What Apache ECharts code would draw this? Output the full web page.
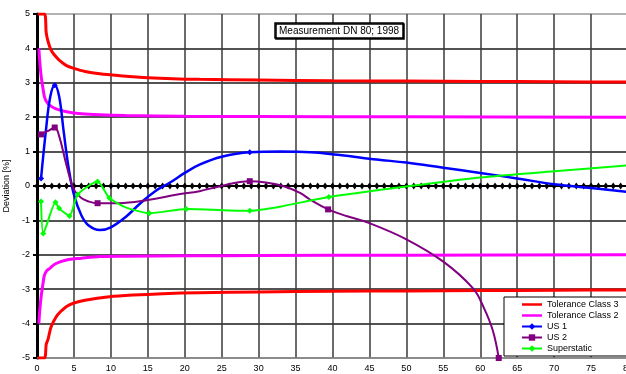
<!DOCTYPE html>
<html><head><meta charset="utf-8">
<script src="https://cdn.jsdelivr.net/npm/echarts@6/dist/echarts.min.js"></script>
<style>html,body{margin:0;padding:0;background:#fff}#c{width:626px;height:374px}</style>
</head><body><div id="c"></div>
<script>
// ---- data ----
const tol3UpX = [0.1,1.0,1.25,1.5,1.9,2.4,3,4,5,6.5,8.5,11,15,22,30,40,50,60,70,80];
const tol3UpY = [5,5,4.45,4.2,3.95,3.8,3.66,3.5,3.42,3.33,3.26,3.21,3.15,3.1,3.08,3.06,3.05,3.04,3.03,3.02];
const tol3LoX = [0.1,1.0,1.25,1.5,1.9,2.6,3.2,4,5,6.5,9.8,13,17,22,30,40,50,60,70,80];
const tol3LoY = [-5,-5,-4.6,-4.45,-4.1,-3.8,-3.65,-3.5,-3.4,-3.32,-3.22,-3.17,-3.13,-3.1,-3.08,-3.06,-3.05,-3.04,-3.03,-3.02];
const tol2UpX = [0.25,0.4,0.57,0.8,1.0,1.3,1.7,2.5,4,6,8.5,12,20,30,50,80];
const tol2UpY = [4.0,3.55,3.18,2.85,2.6,2.45,2.35,2.25,2.16,2.1,2.07,2.05,2.03,2.02,2.01,2.0];
const tol2LoX = [0.25,0.4,0.57,0.8,1.0,1.3,1.7,2.5,4,6,8.5,12,20,30,50,80];
const tol2LoY = [-4.0,-3.55,-3.2,-2.85,-2.6,-2.47,-2.4,-2.26,-2.15,-2.1,-2.05,-2.04,-2.03,-2.02,-2.01,-2.0];
const us1X = [0.55,1.2,1.8,2.4,3,3.6,4.3,5,6,7,8.5,10,12,14,16,18,20,22,25,28.8,33,37,41,46,50,55,60,65,70,75,80];
const us1Y = [0.22,1.6,2.6,2.93,2.6,1.6,0.5,-0.25,-0.85,-1.15,-1.28,-1.2,-0.9,-0.5,-0.15,0.1,0.38,0.62,0.85,0.98,1.0,0.98,0.9,0.77,0.68,0.53,0.38,0.22,0.05,-0.06,-0.17];
const us1Measured = [0.55,2.4,28.8];
const us2X = [0.55,1.5,2.4,3,4,5,6,7,8.2,11,15,19,22,24.5,28.8,31,33.3,35.6,37,39.4,42,45,50,55,59,60.4,61.7,62.5];
const us2Y = [1.5,1.6,1.7,1.45,0.6,-0.1,-0.35,-0.45,-0.5,-0.5,-0.41,-0.25,-0.15,-0.02,0.14,0.1,0,-0.2,-0.4,-0.68,-0.88,-1.08,-1.55,-2.2,-2.97,-3.5,-4.2,-5];
const us2Measured = [0.55,2.4,8.2,28.8,39.4,62.5];
const supX = [0.55,0.85,2.5,3,4.4,5.5,8.2,9.8,12,15.2,20.2,28.8,32.9,39.5,50.5,60,70,80];
const supY = [-0.45,-1.38,-0.47,-0.65,-0.87,-0.25,0.13,-0.35,-0.62,-0.79,-0.67,-0.72,-0.6,-0.32,0.0,0.25,0.43,0.6];
const supMeasured = [0.55,0.85,2.5,3,4.4,5.5,8.2,9.8,15.2,20.2,28.8,39.5,80];
const zeroX = Array.from({length:81},(_,i)=>i);
const xTicks = [0,80,5];
const yTicks = [-5,5,1];

const pts = (xs,ys)=>xs.map((x,i)=>[x,ys[i]]);
const FONT = 'Liberation Sans, Arial, sans-serif';
const markSize = (list,s)=> (v)=> list.includes(v[0]) ? s : 0;
const lineIcon = 'path://M0,0h40v5h-40z';
const hColors = ['#777'].concat(Array(9).fill('#1a1a1a')).concat(['#999']);

const chart = echarts.init(document.getElementById('c'));
chart.setOption({
  animation:false,
  backgroundColor:'#fff',
  title:{text:'Measurement DN 80; 1998',left:275,top:23,padding:[3,4,2,4],
    borderColor:'#000',borderWidth:1.5,backgroundColor:'#fff',
    shadowColor:'#000',shadowOffsetX:1,shadowOffsetY:1,shadowBlur:0,
    textStyle:{fontSize:10,fontWeight:'normal',fontFamily:FONT,color:'#000'}},
  legend:{data:[
      {name:'Tolerance Class 3',icon:lineIcon},
      {name:'Tolerance Class 2',icon:lineIcon},
      'US 1','US 2','Superstatic'],
    orient:'vertical',left:504,top:297,padding:[3,14,3,17],
    backgroundColor:'#fff',borderColor:'#000',borderWidth:1,
    itemWidth:20,itemHeight:8,itemGap:2,
    textStyle:{fontSize:9,fontFamily:FONT,color:'#000',lineHeight:9}},
  grid:{left:37,width:591,top:14,bottom:16,containLabel:false,outerBoundsMode:'none'},
  xAxis:{type:'value',min:xTicks[0],max:xTicks[1],interval:xTicks[2],
    axisLine:{onZero:false,lineStyle:{color:'#888',width:1.5}},
    axisTick:{show:false},
    axisLabel:{fontSize:9,fontFamily:FONT,color:'#000',margin:6},
    splitLine:{show:true,lineStyle:{color:'#3a3a3a',width:1.5}}},
  yAxis:{type:'value',min:yTicks[0],max:yTicks[1],interval:yTicks[2],
    name:'Deviation [%]',nameLocation:'middle',nameGap:24,
    nameTextStyle:{fontSize:9,fontFamily:FONT,color:'#000'},
    axisLine:{show:true,onZero:false,lineStyle:{color:'#000',width:3}},
    axisTick:{show:true,length:4,lineStyle:{color:'#000',width:2}},
    axisLabel:{fontSize:9,fontFamily:FONT,color:'#000',margin:7},
    splitLine:{show:true,lineStyle:{color:hColors,width:1.5}}},
  series:[
    {name:'zero',type:'line',data:zeroX.map(x=>[x,0]),symbol:'diamond',symbolSize:[5,7],
      itemStyle:{color:'#000'},lineStyle:{color:'#000',width:2},z:3,legendHoverLink:false},
    {name:'Tolerance Class 3',type:'line',data:pts(tol3UpX,tol3UpY),smooth:0.3,showSymbol:false,symbol:'none',
      lineStyle:{color:'#ff0000',width:3},itemStyle:{color:'#ff0000'},z:4},
    {name:'Tolerance Class 3',type:'line',data:pts(tol3LoX,tol3LoY),smooth:0.3,showSymbol:false,symbol:'none',
      lineStyle:{color:'#ff0000',width:3},itemStyle:{color:'#ff0000'},z:4},
    {name:'Tolerance Class 2',type:'line',data:pts(tol2UpX,tol2UpY),smooth:0.3,showSymbol:false,symbol:'none',
      lineStyle:{color:'#ff00ff',width:3},itemStyle:{color:'#ff00ff'},z:4},
    {name:'Tolerance Class 2',type:'line',data:pts(tol2LoX,tol2LoY),smooth:0.3,showSymbol:false,symbol:'none',
      lineStyle:{color:'#ff00ff',width:3},itemStyle:{color:'#ff00ff'},z:4},
    {name:'US 1',type:'line',data:pts(us1X,us1Y),smooth:0.4,symbol:'diamond',showAllSymbol:true,
      symbolSize:markSize(us1Measured,6),
      lineStyle:{color:'#0000ff',width:2.5},itemStyle:{color:'#0000ff'},z:5},
    {name:'US 2',type:'line',data:pts(us2X,us2Y),smooth:0.4,symbol:'rect',showAllSymbol:true,
      symbolSize:markSize(us2Measured,6),
      lineStyle:{color:'#800080',width:2},itemStyle:{color:'#800080'},z:5},
    {name:'Superstatic',type:'line',data:pts(supX,supY),smooth:0.2,symbol:'diamond',showAllSymbol:true,
      symbolSize:markSize(supMeasured,6),
      lineStyle:{color:'#00ff00',width:2},itemStyle:{color:'#00ff00'},z:5}
  ]
});
</script></body></html>
